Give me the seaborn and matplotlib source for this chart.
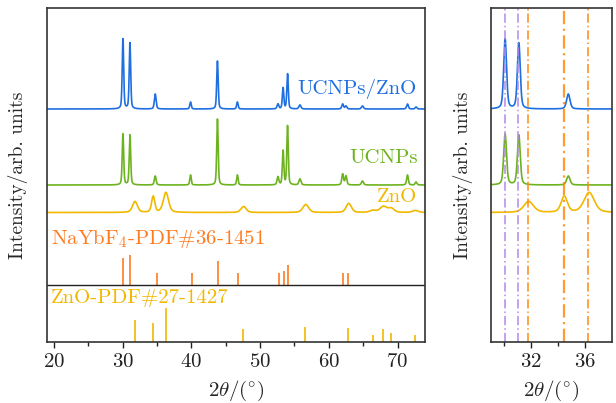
import numpy as np
import pandas as pd
import matplotlib
matplotlib.use("Agg")
import matplotlib.pyplot as plt
import seaborn as sns
from matplotlib.ticker import MultipleLocator, FixedLocator

sns.set_theme(style="white")
plt.rcParams['font.family'] = ['cmr10', 'DejaVu Serif']
plt.rcParams['mathtext.fontset'] = 'cm'
plt.rcParams['axes.formatter.use_mathtext'] = True
plt.rcParams['axes.unicode_minus'] = False

# ---- data ----
# UCNPs/ZnO (blue) and UCNPs (green) peak positions (2theta), heights, widths (FWHM)
ucnp_pos = [30.05, 31.07, 34.75, 39.88, 43.80, 46.70, 52.60, 53.35, 54.00, 55.80, 62.02, 62.50, 64.90, 71.45, 72.70]
ucnp_fwhm = [0.25, 0.25, 0.30, 0.25, 0.25, 0.25, 0.30, 0.25, 0.25, 0.35, 0.30, 0.30, 0.35, 0.30, 0.30]
blue_h = [70, 66, 15, 7, 48, 7, 5, 21, 35, 4, 5, 3, 3, 5, 2]
green_h = [51, 50, 9, 10, 66, 10, 8, 34, 59, 6, 11, 9, 4, 10, 3]
# ZnO sample (yellow)
zno_pos = [31.80, 34.45, 36.30, 47.60, 56.65, 62.90, 66.40, 67.95, 69.10, 72.60]
zno_h = [11, 16, 20, 6, 8, 9, 2, 6, 4, 2]
zno_fwhm = [0.85, 0.55, 0.90, 0.90, 1.00, 0.90, 1.00, 1.20, 1.00, 1.00]
# reference cards
nayb_pos = [30.10, 31.10, 35.00, 40.10, 43.90, 46.85, 52.75, 53.50, 54.08, 62.05, 62.75]
nayb_h = [27, 30, 12, 12, 24, 12, 12, 14, 20, 12, 12]
znopdf_pos = [31.77, 34.42, 36.25, 47.54, 56.60, 62.86, 66.38, 67.96, 69.10, 72.56]
znopdf_h = [22, 19, 34, 13, 15, 14, 7, 13, 9, 7]
# vertical guide lines in the zoom panel
purple_lines = [30.02, 31.0]
orange_lines = [31.77, 34.42, 36.25]

# baselines (stacking offsets)
off_blue, off_green, off_zno, off_nayb, off_znopdf = 233, 157, 129.5, 57, 0

C_BLUE = '#1f6fe0'
C_GREEN = '#6db320'
C_ZNO = '#f2b800'
C_NAYB = '#ff7b22'
C_PURPLE = '#b887e8'
C_ORANGE = '#ff8a12'

FS = 15

x = np.linspace(19, 74, 5501)


def profile(pos, h, w):
    y = np.zeros_like(x)
    for p, hh, ww in zip(pos, h, w):
        g = np.exp(-4 * np.log(2) * (x - p) ** 2 / ww ** 2)
        l = 1 / (1 + 4 * (x - p) ** 2 / ww ** 2)
        y += hh * (0.6 * g + 0.4 * l)
    return y


df = pd.DataFrame({
    'x': x,
    'blue': off_blue + profile(ucnp_pos, blue_h, ucnp_fwhm),
    'green': off_green + profile(ucnp_pos, green_h, ucnp_fwhm),
    'zno': off_zno + profile(zno_pos, zno_h, zno_fwhm),
})

fig = plt.figure(figsize=(6.16, 4.03), dpi=100)
axL = fig.add_axes([47 / 616, 1 - 342 / 403, 378 / 616, 334 / 403])
axR = fig.add_axes([491 / 616, 1 - 342 / 403, 121 / 616, 334 / 403])

for ax in (axL, axR):
    sns.lineplot(data=df, x='x', y='blue', color=C_BLUE, lw=1.2, ax=ax)
    sns.lineplot(data=df, x='x', y='green', color=C_GREEN, lw=1.2, ax=ax)
    sns.lineplot(data=df, x='x', y='zno', color=C_ZNO, lw=1.2, ax=ax)
    ax.set_ylim(0, 334)
    ax.set_yticks([])
    for s in ax.spines.values():
        s.set_color('#333333')
        s.set_linewidth(1.2)
    ax.tick_params(axis='x', which='both', direction='out', bottom=True, top=False,
                   labelsize=FS, colors='#222222', pad=4)
    ax.tick_params(axis='x', which='major', length=4, width=1)
    ax.tick_params(axis='x', which='minor', length=3, width=1)
    ax.set_xlabel(r'$2\theta/(^{\circ})$', fontsize=FS, labelpad=5.5)
    ax.set_ylabel('Intensity/arb. units', fontsize=14)

# left panel
axL.set_xlim(19, 74)
axL.xaxis.set_major_locator(MultipleLocator(10))
axL.xaxis.set_minor_locator(MultipleLocator(5))
axL.vlines(nayb_pos, off_nayb, [off_nayb + h for h in nayb_h], color=C_NAYB, lw=1.2)
axL.vlines(znopdf_pos, off_znopdf, [off_znopdf + h for h in znopdf_h], color=C_ZNO, lw=1.2)
axL.axhline(off_nayb, color='#222222', lw=1.0)
axL.text(72.8, 253, 'UCNPs/ZnO', color=C_BLUE, fontsize=FS, ha='right', va='center')
axL.text(73.0, 184, 'UCNPs', color=C_GREEN, fontsize=FS, ha='right', va='center')
axL.text(72.9, 145, 'ZnO', color=C_ZNO, fontsize=FS, ha='right', va='center')
axL.text(19.6, 103, r'NaYbF$_4$-PDF#36-1451', color=C_NAYB, fontsize=FS, ha='left', va='center')
axL.text(19.6, 44, 'ZnO-PDF#27-1427', color=C_ZNO, fontsize=FS, ha='left', va='center')
axL.yaxis.set_label_coords(-0.05, 0.5)

# right panel
axR.set_xlim(29, 38)
axR.xaxis.set_major_locator(FixedLocator([32, 36]))
axR.xaxis.set_minor_locator(FixedLocator([30, 34]))
for v in purple_lines:
    axR.axvline(v, color=C_PURPLE, lw=1.1, ls=(0, (6, 2, 1, 2)))
for i, v in enumerate(orange_lines):
    axR.axvline(v, color=C_ORANGE, lw=1.6 if i == 1 else 1.1, alpha=0.85 if i == 1 else 1,
                ls=(0, (6, 2, 1, 2)))
axR.yaxis.set_label_coords(-0.15, 0.5)

fig.savefig('out.png', dpi=100)
